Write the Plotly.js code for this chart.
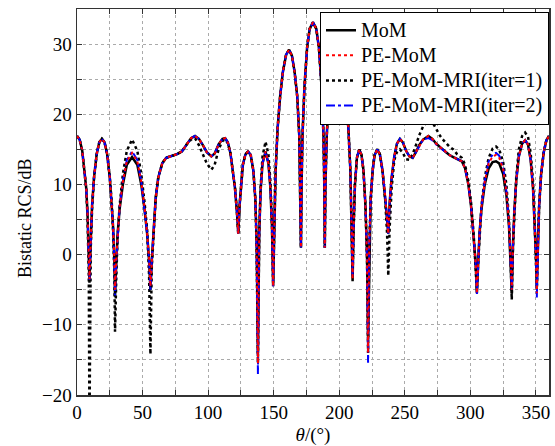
<!DOCTYPE html>
<html><head><meta charset="utf-8">
<script src="https://cdn.plot.ly/plotly-3.0.1.min.js"></script>
<style>html,body{margin:0;padding:0;background:#fff;}#chart{width:555px;height:446px;}</style>
</head><body><div id="chart"></div>
<script>
const theta = [0,2,4,6,7,8,9,9.5,
 10.5,11.5,13,15,17,19,21,23,25,26.5,27.5,28.5,29,
 30,31,32.5,35,38,42,46,49,51.5,53.5,55,56,
 57,58.5,60,62,65,68,72,76,80,84,87,90,93,96,99,102.5,105,108,111,113,115,117,119,120.5,122,123,
 124,125,126.5,128.5,130.5,132.5,134.5,136,137,138,
 139,140,141.5,143.8,146,147.5,148.7,149.6,
 150.5,151.5,153,155,157,159.5,161.8,164,166,168,169.5,170.3,170.8,
 171.3,172,173.5,175.5,177.5,180,182.5,184.5,186.5,188,188.6,189,
 189.5,190.5,192,194,196,198.2,200.5,203,205,207,208.5,209.5,210.2,
 211,212,213.5,215.3,217,218.5,220,221.2,222,
 223,224,225.5,227,229,231,233,235,236.5,237.4,
 238.5,240,242,244,246.3,248.5,251,253.5,256,258.5,261,264,268,271,274,277,280,284,287,290,293.5,296,298.5,300.5,302.5,304,305,
 306,307,308.5,311,314,317,319.6,322,325,327.5,329.5,330.8,331.6,
 332.5,333.5,335,337,339.5,341.8,344,346,347.8,349,350,350.7,
 351.5,352.5,354,356,358,360];

const rcsMoM = [16.9,16.4,14.8,11.8,9.5,6,0.5,-4,
 2,7,11,14.3,16,16.5,16,14.3,11,7.5,4,-1,-6,
 -1,3,6.5,10,12.8,13.9,12.8,10,6.5,3,-1,-5,
 -1,4,8,11,13,13.8,14,14.3,14.7,15.8,16.6,16.9,16.5,15.6,14.6,14.0,14.4,15.7,16.5,16.6,16,14.5,12,9.5,6,3,
 7,10,12.8,14.3,14.7,14.2,12,8,2,-14,
 3,9,13,14.7,13,9.5,4,-4.5,
 5,12,18,22.7,26,28.5,29.2,28.3,26,22.5,17,10,1,
 10,17,24,29.5,32.2,33.1,32.2,29.5,24,17,10,1,
 10,17,22.5,26,28.3,29.2,28.5,26,22.7,18,12,5,-3.8,
 4,10,13.8,15,14.2,12,7,0,-12,
 2,8,12,14.2,15,14.3,12,8.5,5,3,
 7.5,11,14,15.8,16.5,16,14.8,14,13.8,14.6,15.6,16.4,16.9,16.5,15.8,15.3,14.8,14.2,13.9,13.6,13.3,12.3,10,7,3,-1,-5.5,
 -1,3,6.5,10,12.3,13.2,13.3,13,11.5,8.5,4,-1,-5.5,
 1,6,10.5,14,15.8,16.3,15.7,13.5,9.5,5,0,-4.5,
 2,7,11.5,14.6,16.3,16.9];

const rcsPE = [16.9,16.4,14.8,11.8,9.5,6,1,-3.5,
 2,7,11,14.3,16,16.5,16,14.3,11,7.5,4,-0.5,-5,
 -0.5,3,6.8,10.4,13.3,14.5,13.3,10.4,6.8,3,-0.5,-4.5,
 -1,4,8,11,13,13.8,14,14.3,14.7,15.8,16.6,16.9,16.5,15.6,14.6,14.0,14.4,15.7,16.5,16.6,16,14.5,12,9.5,6,3,
 7,10,12.8,14.3,14.7,14.2,12,8,1,-15.5,
 3,9,13,14.7,13,9.5,4,-4.5,
 5,12,18,22.7,26,28.5,29.2,28.3,26,22.5,17,10,1,
 10,17,24,29.5,32.2,33.1,32.2,29.5,24,17,10,1,
 10,17,22.5,26,28.3,29.2,28.5,26,22.7,18,12,5,-3.5,
 4,10,13.8,15,14.2,12,7,-0.5,-14,
 2,8,12,14.2,15,14.3,12,8.5,5,3,
 7.5,11,14,15.8,16.5,16,14.8,14,13.8,14.6,15.6,16.4,16.9,16.5,15.8,15.3,14.8,14.2,13.9,13.6,13.3,12.3,10,7,3,-1,-5.5,
 -1,3,6.8,10.4,13,14,14.2,13.8,12.2,9,4.5,-1,-5,
 1,6,10.5,14,15.8,16.3,15.7,13.5,9.5,5,0,-5.5,
 2,7,11.5,14.6,16.3,16.9];

const rcsIter1 = [16.9,16.4,14.8,11.8,9.5,5.5,-3,-25,
 1,6.5,11,14.3,16,16.5,16,14.3,11,7.5,3.5,-3,-11,
 -3,2.5,7,11.5,14.8,16.4,14.8,11.5,7.5,3.5,-3,-14.2,
 -2,3.5,8,11,13,13.8,14,14.3,14.7,15.8,16.4,16.6,15.6,14.3,13,12.1,12.8,15,16.2,16.4,15.9,14.5,12,9.5,6,3,
 7,10,12.8,14.3,14.7,14.2,12,8,1,-15.4,
 3,9.5,14,16.1,14.3,10.5,4.5,-4,
 5,12,18,22.7,26,28.5,29.2,28.3,26,22.5,17,10,1,
 10,17,24,29.5,32.2,33.1,32.2,29.5,24,17,10,1,
 10,17,22.5,26,28.3,29.2,28.5,26,22.7,18,12,5,-3,
 4,10,13.8,15,14.2,12,7,-0.5,-14,
 2,8,12,14.2,15,14.3,12,8,3,-3,
 4,9.5,13.5,14.6,15,14.5,13.6,13.5,14.3,15.6,17,18.3,19.1,18.9,17.9,16.9,16.2,15.4,15,14.3,13.8,12.8,10.5,7.5,3,-1,-5,
 -1,3,7,11,13.8,15.1,15.4,15,13.2,10,5,-1,-6.4,
 1,6,11,15,16.9,17.4,16.8,14.5,10.5,5,0,-5,
 2,7,11.5,14.6,16.3,16.9];

const rcsIter2 = [16.9,16.4,14.8,11.8,9.5,6,0.5,-3.6,
 2,7,11,14.3,16,16.5,16,14.3,11,7.5,4,-1,-5.8,
 -1,3,6.8,10.5,13.5,14.7,13.5,10.5,6.8,3,-1,-5,
 -1,4,8,11,13,13.8,14,14.3,14.7,15.8,16.6,16.9,16.5,15.6,14.6,14.0,14.4,15.7,16.5,16.6,16,14.5,12,9.5,6,3,
 7,10,12.8,14.3,14.7,14.2,12,8,1,-17,
 3,9,13,14.7,13,9.5,4,-4.5,
 5,12,18,22.7,26,28.5,29.2,28.3,26,22.5,17,10,1,
 10,17,24,29.5,32.2,33.1,32.2,29.5,24,17,10,1,
 10,17,22.5,26,28.3,29.2,28.5,26,22.7,18,12,5,-3,
 4,10,13.8,15,14.2,12,7,-0.5,-15.4,
 2,8,12,14.2,15,14.3,12,8.5,5,3,
 7.5,11,14,15.8,16.5,16,14.8,14,13.8,14.6,15.6,16.4,16.6,16.3,15.7,15.2,14.8,14.2,13.9,13.6,13.3,12.3,10,7,3,-1,-5.7,
 -1,3,6.8,10.5,13.3,14.3,14.5,14.1,12.5,9,4.5,-1,-5,
 1,6,10.5,14,15.8,16.3,15.7,13.5,9.5,5,0,-6.1,
 2,7,11.5,14.6,16.3,16.9];

const names = ['MoM','PE-MoM','PE-MoM-MRI(iter=1)','PE-MoM-MRI(iter=2)'];
const xTicks = [0,50,100,150,200,250,300,350];
const yTicks = [-20,-10,0,10,20,30];
const xTitle = '<i>θ</i>/(°)';
const yTitle = 'Bistatic RCS/dB';

const FONT = 'Liberation Serif, Times New Roman, serif';
const big = s => '<span style="font-size:20px">' + s + '</span>';
const traces = [
 {x:theta,y:rcsMoM,name:big(names[0]),legendrank:1,mode:'lines',line:{color:'#000',width:2.5}},
 {x:theta,y:rcsIter1,name:big(names[2]),legendrank:3,mode:'lines',line:{color:'#000',width:2.5,dash:'dot'}},
 {x:theta,y:rcsIter2,name:big(names[3]),legendrank:4,mode:'lines',line:{color:'#0000ff',width:2,dash:'dashdot'}},
 {x:theta,y:rcsPE,name:big(names[1]),legendrank:2,mode:'lines',line:{color:'#ff0000',width:2,dash:'dot'}}
];
const axisCommon = {
 showline:true, linecolor:'#333', linewidth:1.5, mirror:'ticks',
 ticks:'inside', ticklen:5, tickcolor:'#333',
 showgrid:true, gridcolor:'#aaa', griddash:'dot', gridwidth:1,
 zeroline:false, tickfont:{family:FONT,size:19,color:'#000'}
};
const layout = {
 width:555, height:446,
 margin:{l:77,r:6,t:9,b:51},
 paper_bgcolor:'#fff', plot_bgcolor:'#fff',
 showlegend:true,
 legend:{x:1,xanchor:'right',y:0.993,yanchor:'top',bgcolor:'#fff',bordercolor:'#000',borderwidth:1,
   font:{family:FONT,size:17,color:'#000'},tracegroupgap:0,itemwidth:30},
 xaxis:Object.assign({},axisCommon,{range:[0,360],tickvals:xTicks,ticktext:xTicks.map(String),
   minor:{dtick:25,tick0:0,showgrid:true,gridcolor:'#aaa',griddash:'dot',ticks:'inside',ticklen:5,tickcolor:'#333'},
   title:{text:xTitle,font:{family:FONT,size:19,color:'#000'},standoff:6}}),
 yaxis:Object.assign({},axisCommon,{range:[-20,35],tickvals:yTicks,
   minor:{dtick:5,tick0:0,showgrid:true,gridcolor:'#aaa',griddash:'dot',ticks:'inside',ticklen:5,tickcolor:'#333'}}),
 annotations:[{text:yTitle,textangle:-90,xref:'paper',yref:'paper',x:(25-77)/472,y:(395-218)/386,
   xanchor:'center',yanchor:'middle',showarrow:false,font:{family:FONT,size:18,color:'#000'}}]
};
Plotly.newPlot('chart',traces,layout,{displayModeBar:false,staticPlot:true});
</script></body></html>
